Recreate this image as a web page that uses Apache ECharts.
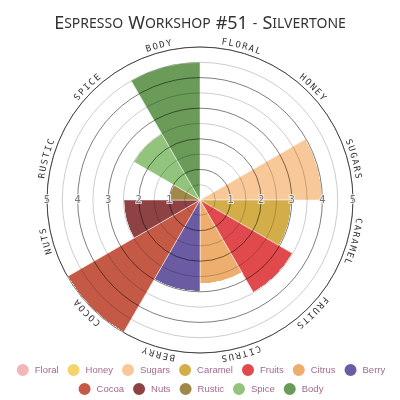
<!DOCTYPE html>
<html>
<head>
<meta charset="utf-8">
<script src="https://cdn.jsdelivr.net/npm/echarts@6/dist/echarts.min.js"></script>
<style>
  html, body { margin: 0; padding: 0; background: #fff; }
  #chart { width: 400px; height: 400px; }
</style>
</head>
<body>
<div id="chart"></div>
<script>
// flavour wheel data
const flavours = ['Floral', 'Honey', 'Sugars', 'Caramel', 'Fruits', 'Citrus', 'Berry', 'Cocoa', 'Nuts', 'Rustic', 'Spice', 'Body']
const scores = [0, 0, 4, 3, 3.5, 2.75, 3, 5, 2.5, 1, 2.5, 4.5]
const colors = ['#f2b6b6', '#f4d36a', '#f8c898', '#d3ae48', '#e04a4c', '#eeae6e', '#6b5ba3', '#c45a46', '#8e4244', '#a08848', '#93c47d', '#6a9b58']
const tickLabels = ['', '1', '2', '3', '4', '5']

const cx = 200
const cy = 200
const radius = 153
const maxScore = 5

const chart = echarts.init(document.getElementById('chart'))

// curved category labels, one letter at a time round the outer ring
function ringLabels() {
  const out = []
  const labelR = radius + 2
  const step = 6.8 / labelR
  const sector = (Math.PI * 2) / flavours.length
  flavours.forEach((name, i) => {
    const letters = name.toUpperCase().split('')
    const mid = sector * i + sector / 2
    letters.forEach((ch, j) => {
      const a = mid + (j - (letters.length - 1) / 2) * step
      out.push({
        type: 'text',
        x: cx + labelR * Math.sin(a),
        y: cy - labelR * Math.cos(a),
        rotation: -a,
        style: {
          text: ch,
          fill: '#333',
          font: '9px "DejaVu Sans Mono"',
          align: 'center',
          verticalAlign: 'bottom',
        },
      })
    })
  })
  return out
}

const tickAxis = (startAngle) => ({
  startAngle: startAngle,
  type: 'value',
  show: false,
})

const tickRadius = {
  type: 'value',
  min: 0,
  max: maxScore,
  interval: 1,
  z: 10,
  axisLine: { show: false },
  axisTick: { show: false },
  splitLine: { show: false },
  axisLabel: {
    margin: 0,
    align: 'center',
    verticalAlign: 'middle',
    color: '#777',
    fontSize: 10,
    fontFamily: 'DejaVu Sans',
    textBorderColor: 'rgba(255,255,255,0.7)',
    textBorderWidth: 2,
    formatter: (v) => tickLabels[v] || '',
  },
}

const series = flavours.map((name, i) => ({
  name: name,
  type: 'bar',
  coordinateSystem: 'polar',
  polarIndex: 0,
  stack: 'wheel',
  barCategoryGap: '0%',
  itemStyle: { color: colors[i], borderColor: '#fff', borderWidth: 0.5 },
  data: flavours.map((f, k) => (k === i ? scores[i] : 0)),
}))

const legendText = { color: '#a3688f', fontSize: 9.5, fontFamily: 'Liberation Sans' }

chart.setOption({
  animation: false,
  color: colors,
  title: {
    text: '{a|E}{b|SPRESSO} {a|W}{b|ORKSHOP} {a|#51} {b|-} {a|S}{b|ILVERTONE}',
    left: 'center',
    top: 10,
    textStyle: {
      rich: {
        a: { fontSize: 18, color: '#333', fontFamily: 'Noto Sans', fontWeight: 'normal' },
        b: { fontSize: 14, color: '#333', fontFamily: 'Noto Sans', fontWeight: 'normal' },
      },
    },
  },
  legend: [
    {
      data: flavours.slice(0, 7),
      left: 'center',
      top: 362,
      icon: 'circle',
      itemWidth: 14,
      itemHeight: 14,
      itemGap: 7,
      padding: 0,
      textStyle: legendText,
    },
    {
      data: flavours.slice(7),
      left: 'center',
      top: 381,
      icon: 'circle',
      itemWidth: 14,
      itemHeight: 14,
      itemGap: 7,
      padding: 0,
      textStyle: legendText,
    },
  ],
  polar: [
    { center: [cx, cy], radius: radius },
    { center: [cx, cy], radius: radius },
    { center: [cx, cy], radius: radius },
  ],
  angleAxis: [
    {
      polarIndex: 0,
      type: 'category',
      data: flavours,
      startAngle: 90,
      clockwise: true,
      axisLine: { lineStyle: { color: '#888', width: 1 } },
      axisTick: { show: false },
      axisLabel: { show: false },
      splitLine: { show: false },
    },
    Object.assign({ polarIndex: 1 }, tickAxis(0)),
    Object.assign({ polarIndex: 2 }, tickAxis(180)),
  ],
  radiusAxis: [
    {
      polarIndex: 0,
      type: 'value',
      min: 0,
      max: maxScore,
      interval: 0.5,
      z: 5,
      axisLine: { show: false },
      axisTick: { show: false },
      axisLabel: { show: false },
      splitLine: {
        show: true,
        lineStyle: { color: ['rgba(0,0,0,0.5)', 'rgba(0,0,0,0.2)'], width: 1 },
      },
    },
    Object.assign({ polarIndex: 1 }, tickRadius),
    Object.assign({ polarIndex: 2 }, tickRadius),
  ],
  graphic: ringLabels(),
  series: series,
})
</script>
</body>
</html>
